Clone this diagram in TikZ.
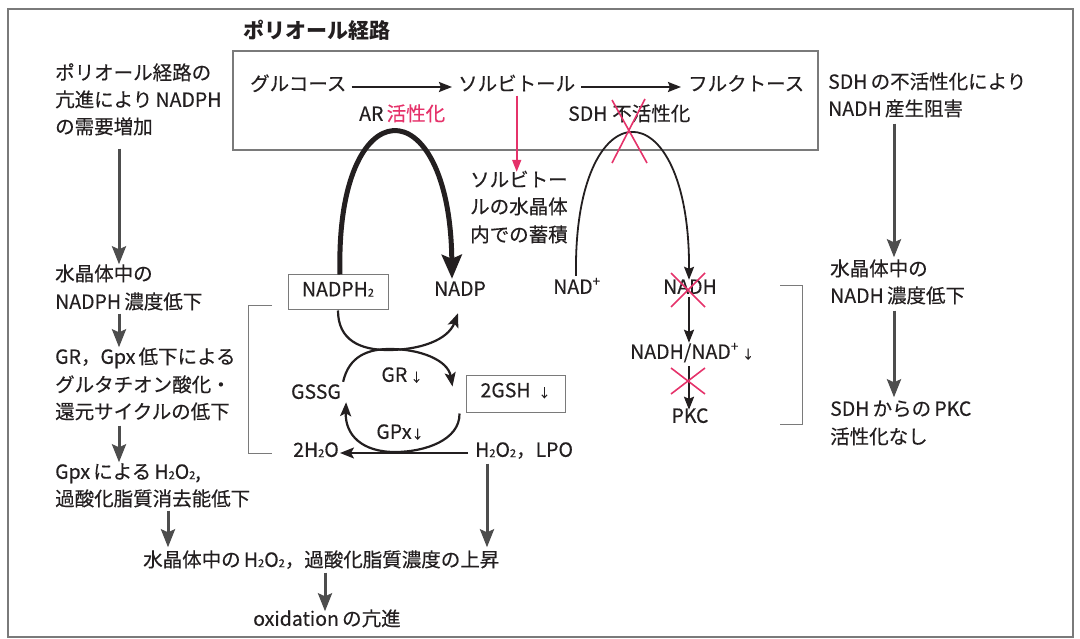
\documentclass[tikz,border=0pt]{standalone}
\usepackage{fontspec}
\setmainfont{Noto Sans CJK JP}[UprightFeatures={FakeBold=0.35}]
\usetikzlibrary{arrows.meta,calc}
\definecolor{ink}{HTML}{231F20}
\definecolor{fr}{HTML}{7A7A7A}
\definecolor{ga}{HTML}{4D4D4D}
\definecolor{rd}{HTML}{E5326A}
\newcommand{\sdown}{{\fontsize{12}{12}\selectfont ↓}}
\newcommand{\lowtwo}{\raisebox{-0.02em}{\fontsize{11}{11}\selectfont 2}}
\begin{document}
\begin{tikzpicture}[x=1pt,y=-1pt,
  t/.style={inner sep=0pt, anchor=west, text height=0.88em, text depth=0.12em, font=\fontsize{19.5}{23}\selectfont, text=ink},
  tc/.style={t, anchor=center},
  boxn/.style={tc, draw=fr, line width=1pt},
  garrow/.style={draw=ga, line width=3pt, -{Stealth[length=18pt,width=14pt,inset=3pt]}},
  barrow/.style={draw=ink, line width=2.2pt, -{Stealth[length=13pt,width=10pt,inset=2pt]}},
  carrow/.style={draw=ink, line width=2.2pt, -{Stealth[length=14pt,width=11pt,inset=3pt]}},
  thickarrow/.style={draw=ink, line width=5pt, -{Stealth[length=24pt,width=20pt,inset=4pt]}},
  thinarrow/.style={draw=ink, line width=1.8pt, -{Stealth[length=13pt,width=10pt,inset=2pt]}},
  redarrow/.style={draw=rd, line width=1.6pt, -{Triangle[length=12pt,width=9pt]}},
  bracket/.style={draw=fr, line width=1pt},
  redx/.style={draw=rd, line width=1.6pt},
]
\useasboundingbox (0,0) rectangle (1080,639);
\draw[fr, line width=1.4pt] (8,9) rectangle (1073,637);

% title and polyol box
\node[t, font=\fontsize{21}{25}\selectfont\bfseries] (title) at (243,35) {ポリオール経路};
\node[draw=fr, line width=1.1pt, inner sep=0pt, minimum width=585pt, minimum height=99pt] (polbox) at (525.5,100.5) {};

\node[t] (glc) at (250,87) {グルコース};
\node[t] (sor) at (458,87) {ソルビトール};
\node[t] (fru) at (688,87) {フルクトース};
\draw[barrow, shorten <=5pt, shorten >=6pt] (glc.east) -- (sor.west);
\draw[barrow, shorten <=6pt, shorten >=7pt] (sor.east) -- (fru.west);

\node[t] (ar) at (359,117) {AR\,\textcolor{rd}{活性化}};
\node[t] (sdh) at (568,117) {SDH\hspace{0.25em}不活性化};

% sorbitol accumulation
\node[t] (acc1) at (470,183) {ソルビトー};
\node[t] (acc2) at (470,210) {ルの水晶体};
\node[t] (acc3) at (470,238) {内での蓄積};
\coordinate (sorfoot) at ($(sor.south)+(0,3.5)$);
\draw[redarrow, shorten >=6pt] (sorfoot) -- (sorfoot |- acc1.north);

% left column
\node[t] (la1) at (55,76) {ポリオール経路の};
\node[t] (la2) at (55,103) {亢進により\,NADPH};
\node[t] (la3) at (55,130) {の需要増加};
\node[t] (lb1) at (55,277) {水晶体中の};
\node[t] (lb2) at (55,305) {NADPH\,濃度低下};
\node[t] (lc1) at (55,360) {GR，Gpx\,低下による};
\node[t] (lc2) at (55,388) {グルタチオン酸化・};
\node[t] (lc3) at (55,415) {還元サイクルの低下};
\node[t] (ld1) at (55,475) {Gpx\,による\,H\lowtwo O\lowtwo,};
\node[t] (ld2) at (55,502) {過酸化脂質消去能低下};
\node[t] (le) at (143,563) {水晶体中の\,H\lowtwo O\lowtwo，過酸化脂質濃度の上昇};
\node[t] (lf) at (253,622) {oxidation\,の亢進};

\draw[garrow, shorten <=13.5pt, shorten >=7.5pt] ([xshift=64pt]la3.south west) -- ([xshift=64pt]lb1.north west);
\draw[garrow, shorten <=3.5pt, shorten >=7.5pt] ([xshift=64pt]lb2.south west) -- ([xshift=64pt]lc1.north west);
\draw[garrow, shorten <=5.5pt, shorten >=7.5pt] ([xshift=64pt]lc3.south west) -- ([xshift=64pt]ld1.north west);
\coordinate (ldx) at ([xshift=113pt]ld2.south west);
\draw[garrow, shorten <=3.5pt, shorten >=10.5pt] (ldx) -- (ldx |- le.north);
\coordinate (lex) at ([xshift=182pt]le.south west);
\draw[garrow, shorten <=4.5pt, shorten >=5.5pt] (lex) -- (lex |- lf.north);

% right column
\node[t] (r1) at (828,85) {SDH\,の不活性化により};
\node[t] (r2) at (828,112) {NADH\,産生阻害};
\node[t] (r3) at (830,272) {水晶体中の};
\node[t] (r4) at (830,299) {NADH\,濃度低下};
\node[t] (r5) at (830,412) {SDH\,からの\,PKC};
\node[t] (r6) at (830,440) {活性化なし};
\draw[garrow, shorten <=6.5pt, shorten >=9.5pt] ([xshift=66pt]r2.south west) -- ([xshift=64pt]r3.north west);
\draw[garrow, shorten <=6.5pt, shorten >=9.5pt] ([xshift=64pt]r4.south west) -- ([xshift=64pt]r5.north west);

% NADPH / NADP / NAD / NADH
\node[boxn, minimum width=100pt, minimum height=35pt] (nadph) at (338,292.5) {NADPH\lowtwo};
\node[tc] (nadp) at (460,292) {NADP};
\node[tc] (nadplus) at (577,290) {NAD\textsuperscript{+}};
\node[tc] (nadh) at (690,290) {NADH};
\node[t] (ratio) at (630,355) {NADH/NAD\textsuperscript{+}\,\sdown};
\node[tc] (pkc) at (690,419) {PKC};

\draw[thickarrow] ($(nadph.north)+(2,0)$) .. controls (335,85) and (450,85) .. ($(nadp.north)+(-8,-8)$);
\draw[thinarrow] ($(nadplus.north)+(-1,-9)$) .. controls (573,85) and (690,85) .. ($(nadh.north)+(-1,-5)$);
\draw[redx] (612,100) -- (647,163);
\draw[redx] (645,99) -- (612,163);

\draw[barrow, shorten <=2pt, shorten >=7pt] ($(nadh.south)+(-1,0)$) -- ($(nadh.south |- ratio.north)+(-1,0)$);
\draw[barrow, shorten <=6pt, shorten >=4pt] ($(nadh.south |- ratio.south)+(-1,0)$) -- ($(nadh.south |- pkc.north)+(-1,0)$);
\draw[redx] ($(nadh)+(-19,-17)$) -- ($(nadh)+(15,17)$);
\draw[redx] ($(nadh)+(15,-17)$) -- ($(nadh)+(-19,17)$);
\draw[redx] (671,368) -- (705,394);
\draw[redx] (705,368) -- (671,394);

\draw[bracket] (780,286) -- (802,286) -- (802,424) -- (780,424);

% glutathione cycle
\node[tc] (gssg) at (316,395) {GSSG};
\node[boxn, minimum width=99pt, minimum height=37pt] (gsh) at (515.5,393.5) {2GSH\hspace{0.4em}\sdown};
\node[tc] (gr) at (402,378) {GR\,\sdown};
\node[tc] (gpx) at (400,435) {GPx\sdown};
\node[tc] (h2o) at (316,453) {2H\lowtwo O};
\node[t] (h2o2) at (475,453) {H\lowtwo O\lowtwo，LPO};

\draw[carrow] (nadph.south) .. controls (338,340) and (360,350) .. (388,350) .. controls (420,350) and (448,340) .. ($(nadp.south)+(-2,16)$);
\draw[carrow] ($(gssg.north east)+(2,-8)$) .. controls (349,356) and (368,349) .. (390,349) .. controls (420,349) and (448,360) .. ($(gsh.north west)+(-13,12)$);
\draw[carrow] ($(gsh.south west)+(-6,1)$) .. controls (460,440) and (425,452) .. (395,452) .. controls (362,452) and (345,435) .. ($(gssg.south east)+(5,2)$);
\draw[carrow, shorten <=7pt, shorten >=1pt] (h2o2.west) -- (h2o.east);

\coordinate (h2ox) at ([xshift=12pt]h2o2.south west);
\draw[garrow, shorten <=5.5pt, shorten >=10.5pt] (h2ox) -- (h2ox |- le.north);

\draw[bracket] (272,306) -- (248,306) -- (248,453) -- (272,453);
\end{tikzpicture}
\end{document}
